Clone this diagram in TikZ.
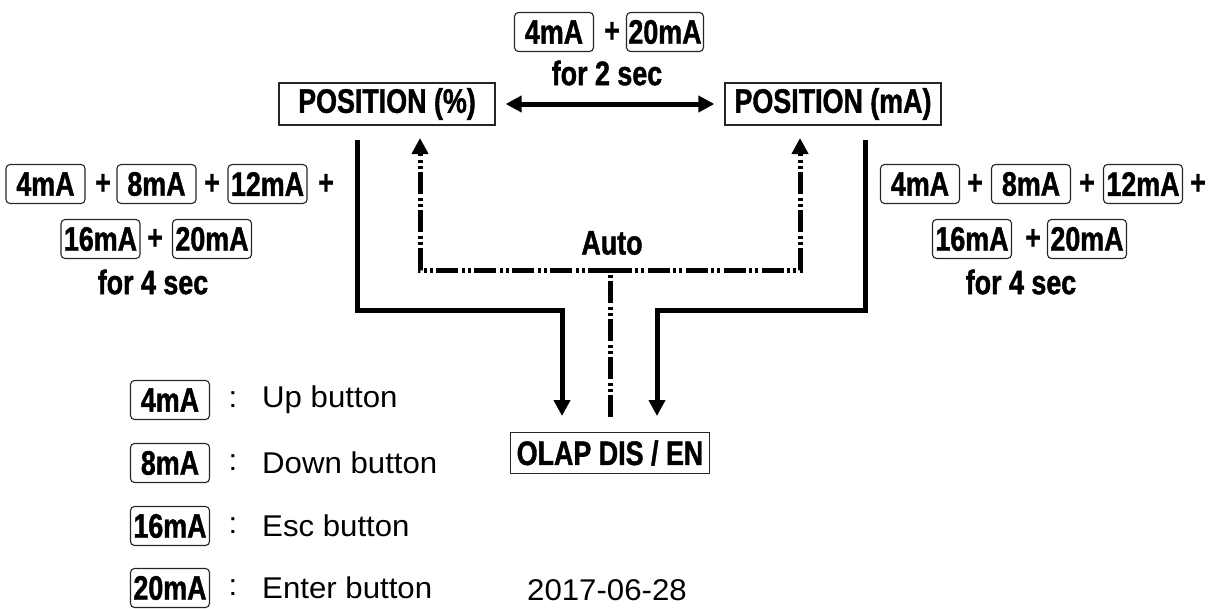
\documentclass[tikz,border=0pt]{standalone}
\usepackage{fontspec}
\usetikzlibrary{arrows.meta}
\newfontfamily\bcond[FakeStretch=0.79,FakeBold=1.2]{Liberation Sans}
\newfontfamily\regf[FakeStretch=1.04]{Liberation Sans}
\tikzset{
  btxt/.style={font=\bcond\bfseries\fontsize{34}{36}\selectfont, inner sep=0pt},
  rtxt/.style={font=\regf\fontsize{30}{32}\selectfont, inner sep=0pt},
  keybox/.style={btxt, draw=black!85, line width=1.1pt, rounded corners=4pt,
                 minimum width=79pt, minimum height=39pt},
  statebox/.style={btxt, draw=black!85, line width=1.3pt, minimum height=42pt},
  solidline/.style={line width=5pt, -{Triangle[width=16pt,length=16pt]}},
  autoline/.style={line width=5pt, dash pattern=on 22pt off 3pt on 3pt off 3pt on 3pt off 4pt},
  autoarrow/.style={autoline, -{Triangle[width=16pt,length=16pt]}},
  duoarrow/.style={line width=5pt, {Triangle[width=16pt,length=16pt]}-{Triangle[width=16pt,length=16pt]}}
}
\begin{document}
\begin{tikzpicture}[x=1pt,y=-1pt]
\useasboundingbox (0,0) rectangle (1218,608);

% state boxes
\node[statebox, minimum width=216pt] (pp) at (387,104) {POSITION (\%)};
\node[statebox, minimum width=216pt] (pm) at (833,104) {POSITION (mA)};
\node[statebox, minimum width=199pt, minimum height=41pt] (olap) at (610,453) {OLAP DIS / EN};

% top combination
\node[keybox] (t4) at (554,32) {4mA};
\node[btxt] (tp) at (612,32) {+};
\node[keybox, minimum width=77pt] (t20) at (665,32) {20mA};
\node[btxt] (t2s) at (607,73) {for 2 sec};

% double arrow
\draw[duoarrow] ([xshift=10pt]pp.east) -- ([xshift=-10pt]pm.west);

% left combination
\node[keybox] (l4) at (45.5,184) {4mA};
\node[btxt] (lp1) at (103,184) {+};
\node[keybox] (l8) at (156.5,184) {8mA};
\node[btxt] (lp2) at (212,184) {+};
\node[keybox] (l12) at (267.5,184) {12mA};
\node[btxt] (lp3) at (326,184) {+};
\node[keybox] (l16) at (100.5,239) {16mA};
\node[btxt] (lp4) at (155,239) {+};
\node[keybox] (l20) at (212,239) {20mA};
\node[btxt] (l4s) at (153,282) {for 4 sec};

% right combination
\node[keybox] (r4) at (920,184) {4mA};
\node[btxt] (rp1) at (975,184) {+};
\node[keybox] (r8) at (1031,184) {8mA};
\node[btxt] (rp2) at (1087,184) {+};
\node[keybox] (r12) at (1143,184) {12mA};
\node[btxt] (rp3) at (1198,184) {+};
\node[keybox] (r16) at (972,239) {16mA};
\node[btxt] (rp4) at (1033,239) {+};
\node[keybox] (r20) at (1087,239) {20mA};
\node[btxt] (r4s) at (1021,282) {for 4 sec};

% connectors to OLAP
\coordinate (ls) at (357,140);
\coordinate (rs) at (865,140);
\coordinate (lin) at (562,416);
\coordinate (rin) at (657,416);
\draw[solidline] (ls) |- (562,310) -- (lin);
\draw[solidline] (rs) |- (657,310) -- (rin);

% auto connectors
\coordinate (ab) at (610,417);
\coordinate (aj) at (610,270);
\coordinate (al) at (420,138);
\coordinate (ar) at (800,138);
\draw[autoline] (ab) -- (aj);
\draw[autoarrow] (aj) -| (al);
\draw[autoarrow] (aj) -| (ar);
\node[btxt] (auto) at (612,243) {Auto};

% legend
\node[keybox] (k4) at (170,400) {4mA};
\node[rtxt] (c4) at (233,400) {:};
\node[rtxt, anchor=west] (d4) at (262,400) {Up button};
\node[keybox] (k8) at (170,463) {8mA};
\node[rtxt] (c8) at (233,463) {:};
\node[rtxt, anchor=west] (d8) at (262,463) {Down button};
\node[keybox] (k16) at (170,526) {16mA};
\node[rtxt] (c16) at (233,526) {:};
\node[rtxt, anchor=west] (d16) at (262,526) {Esc button};
\node[keybox] (k20) at (170,588) {20mA};
\node[rtxt] (c20) at (233,588) {:};
\node[rtxt, anchor=west] (d20) at (262,588) {Enter button};
\node[rtxt] (date) at (607,590) {2017-06-28};
\end{tikzpicture}
\end{document}
